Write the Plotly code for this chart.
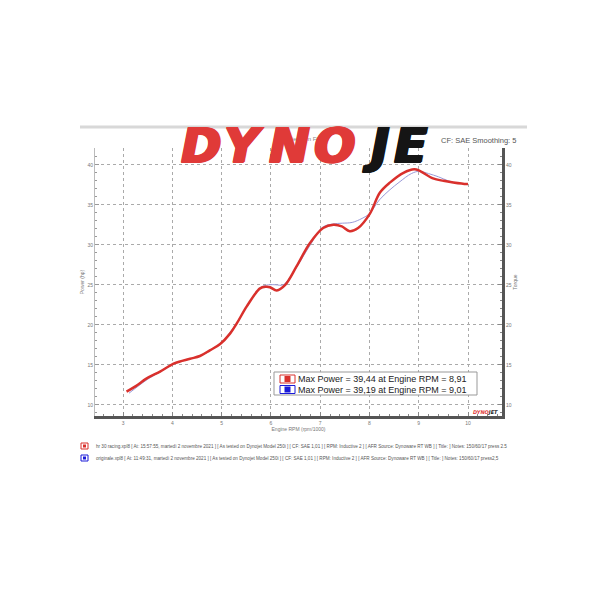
import plotly.graph_objects as go

# ---- data ----
red_rpm = [3.07, 3.25, 3.48, 3.75, 4.05, 4.36, 4.56, 4.76, 4.97, 5.17, 5.31, 5.51, 5.78, 5.90, 5.98,
           6.12, 6.29, 6.52, 6.79, 7.06, 7.27, 7.44, 7.60, 7.77, 8.01, 8.21, 8.42, 8.69, 8.91, 9.02,
           9.29, 9.50, 9.70, 9.97, 10.0]
red_hp = [11.65, 12.3, 13.3, 14.15, 15.2, 15.75, 16.1, 16.8, 17.6, 18.9, 20.2, 22.3, 24.55, 24.75, 24.7,
          24.3, 25.0, 27.3, 30.2, 32.1, 32.5, 32.3, 31.7, 32.1, 33.9, 36.5, 37.8, 39.0, 39.44, 39.25,
          38.3, 38.0, 37.8, 37.6, 37.6]

blue_rpm = [3.12, 3.3, 3.5, 3.75, 4.05, 4.36, 4.6, 4.8, 5.0, 5.2, 5.35, 5.55, 5.8, 5.95, 6.1, 6.25,
            6.5, 6.8, 7.05, 7.25, 7.45, 7.65, 7.85, 8.0, 8.2, 8.4, 8.62, 8.85, 9.01, 9.2, 9.4, 9.6,
            9.8, 10.0]
blue_hp = [11.45, 12.3, 13.2, 14.1, 15.15, 15.75, 16.2, 16.9, 17.8, 19.3, 20.6, 22.7, 24.7, 25.0,
           25.0, 25.0, 27.0, 30.0, 32.2, 32.6, 32.7, 32.8, 33.3, 33.9, 35.6, 36.8, 37.9, 38.9, 39.19,
           38.9, 38.5, 38.0, 37.7, 37.6]

x_ticks = [3, 4, 5, 6, 7, 8, 9, 10]
y_ticks = [10, 15, 20, 25, 30, 35, 40]

legend_max = ["Max Power = 39,44 at Engine RPM = 8,91",
              "Max Power = 39,19 at Engine RPM = 9,01"]
file_lines = [
    "hr 30 racing.xpl8 [ At: 15:57:55, martedì 2 novembre 2021 ] [ As tested on Dynojet Model 250i ] [ CF: SAE 1,01 ] [ RPM: Inductive 2 ] [ AFR Source: Dynoware RT WB ] [ Title: ] Notes: 150/60/17 press 2.5",
    "originale.xpl8 [ At: 11:49:31, martedì 2 novembre 2021 ] [ As tested on Dynojet Model 250i ] [ CF: SAE 1,01 ] [ RPM: Inductive 2 ] [ AFR Source: Dynoware RT WB ] [ Title: ] Notes: 150/60/17 press2,5",
]
logo_letters = ["D", "Y", "N", "O", "J", "E"]

RED = "#d9302c"
BLUE_LINE = "#9a9ad8"

OFF = 8  # page body margin offset
W, H = 600, 600
# plot area in reference pixels
L, R, T, B = 95, 502, 148, 416


def px(x):
    return (x - L) / (R - L)


def py(y):
    return (B - y) / (B - T)


fig = go.Figure()
fig.add_trace(go.Scatter(x=blue_rpm, y=blue_hp, mode="lines", line=dict(color=BLUE_LINE, width=1, shape="spline"),
                         showlegend=False, hoverinfo="skip"))
fig.add_trace(go.Scatter(x=red_rpm, y=red_hp, mode="lines", line=dict(color=RED, width=2.5, shape="spline"),
                         showlegend=False))
fig.add_trace(go.Scatter(x=[], y=[], yaxis="y2", showlegend=False))

axis_font = dict(family="Liberation Sans", size=5, color="#777")

fig.update_layout(
    width=W, height=H,
    margin=dict(l=L - OFF, r=W - R + OFF, t=T - OFF, b=H - B + OFF),
    paper_bgcolor="white", plot_bgcolor="white",
    xaxis=dict(range=[2.43, 10.69], tickvals=x_ticks, showgrid=True, gridcolor="#aaa", griddash="dot",
               gridwidth=1, zeroline=False, showline=True, linecolor="#555", linewidth=3,
               ticks="inside", ticklen=4, tickcolor="#888", tickfont=axis_font,
               minor=dict(dtick=0.2, ticks="inside", ticklen=2, tickcolor="#888", showgrid=False),
               title=dict(text="Engine RPM (rpm/1000)", font=axis_font, standoff=2)),
    yaxis=dict(range=[8.6, 42.1], tickvals=y_ticks, showgrid=True, gridcolor="#aaa", griddash="dot",
               zeroline=False, showline=True, linecolor="#bbb", linewidth=1,
               ticks="inside", ticklen=4, tickcolor="#999", tickfont=axis_font,
               minor=dict(dtick=1, ticks="inside", ticklen=2, tickcolor="#999", showgrid=False),
               title=dict(text="Power (hp)", font=axis_font, standoff=2)),
    yaxis2=dict(range=[8.6, 42.1], tickvals=y_ticks, overlaying="y", side="right", showgrid=False,
                zeroline=False, showline=True, linecolor="#555", linewidth=3,
                ticks="inside", ticklen=4, tickcolor="#888", tickfont=axis_font,
                minor=dict(dtick=1, ticks="inside", ticklen=2, tickcolor="#888"),
                title=dict(text="Torque", font=axis_font, standoff=2)),
)

shapes = []
annotations = []

# top gray band
shapes.append(dict(type="line", xref="paper", yref="paper", x0=px(80), x1=px(527), y0=py(127), y1=py(127),
                   line=dict(color="#d8d8d8", width=3)))

# chart title (mostly hidden behind the logo)
annotations.append(dict(xref="paper", yref="paper", x=px(300), y=py(134), text="Dynojet Run File",
                        showarrow=False, font=dict(family="Liberation Sans", size=6, color="#888")))
annotations.append(dict(xref="paper", yref="paper", x=px(518), y=py(134), xanchor="right",
                        text="CF: SAE Smoothing: 5", showarrow=False,
                        font=dict(family="Liberation Sans", size=7.5, color="#555")))

# DYNOJET logo, letter by letter (thickened with a shadow)
logo_x = [201, 243, 289, 334, 376, 410]
logo_c = ["#e03a38"] * 4 + ["#151515"] * 2
for ch, lx, lc in zip(logo_letters, logo_x, logo_c):
    thick = ", ".join(f"{dx}px 0 0 {lc}" for dx in (1, 2, 3)) + f", 0 1px 0 {lc}, 2px 1px 0 {lc}"
    annotations.append(dict(xref="paper", yref="paper", x=px(lx - 1), y=py(145), xanchor="center",
                            yanchor="middle", text=ch, showarrow=False,
                            font=dict(family="DejaVu Sans", size=48, color=lc, weight="bold", style="italic",
                                      shadow=thick)))

# small logo bottom right
annotations.append(dict(xref="paper", yref="paper", x=px(500), y=py(412), xanchor="right", yanchor="middle",
                        text="<span style='color:#e03a38'>DYNO</span><span style='color:#222'>JET</span>",
                        showarrow=False,
                        font=dict(family="DejaVu Sans", size=5, weight="bold", style="italic")))

# inset max-power box
shapes.append(dict(type="rect", xref="paper", yref="paper", x0=px(274), x1=px(477), y0=py(372), y1=py(395),
                   fillcolor="white", line=dict(color="#999", width=1), layer="above"))
for i, (txt, col) in enumerate(zip(legend_max, [RED, "#1a1ad8"])):
    cy = 379 + i * 10.5
    shapes.append(dict(type="rect", xref="paper", yref="paper", x0=px(280), x1=px(295), y0=py(cy - 4),
                       y1=py(cy + 4), fillcolor="white", line=dict(color=col, width=1), layer="above"))
    shapes.append(dict(type="rect", xref="paper", yref="paper", x0=px(284.5), x1=px(290.5), y0=py(cy - 3),
                       y1=py(cy + 3), fillcolor=col, line=dict(width=0), layer="above"))
    annotations.append(dict(xref="paper", yref="paper", x=px(296), y=py(cy), xanchor="left", yanchor="middle",
                            text=txt, showarrow=False,
                            font=dict(family="Liberation Sans", size=9, color="#222")))

# file legend under chart
for i, (txt, col) in enumerate(zip(file_lines, [RED, "#1a1ad8"])):
    cy = 446 + i * 12
    shapes.append(dict(type="rect", xref="paper", yref="paper", x0=px(81), x1=px(88), y0=py(cy - 3),
                       y1=py(cy + 3), fillcolor="white", line=dict(color=col, width=1)))
    shapes.append(dict(type="rect", xref="paper", yref="paper", x0=px(83), x1=px(86), y0=py(cy - 1.5),
                       y1=py(cy + 1.5), fillcolor=col, line=dict(width=0)))
    annotations.append(dict(xref="paper", yref="paper", x=px(94), y=py(cy), xanchor="left", yanchor="middle",
                            text=txt, showarrow=False,
                            font=dict(family="Liberation Sans", size=4.6, color="#555")))

fig.update_layout(shapes=shapes, annotations=annotations)
fig.write_html("out.html")
